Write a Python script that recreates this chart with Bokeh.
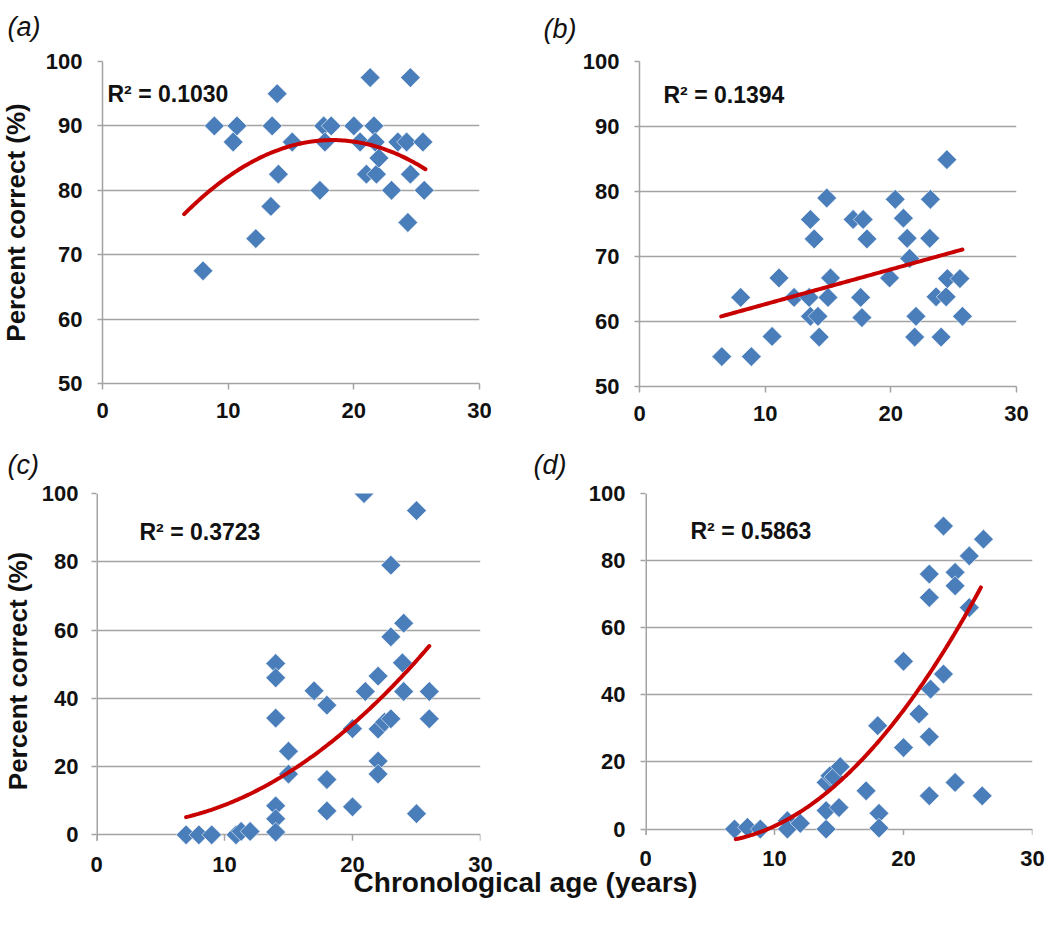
import numpy as np
from bokeh.plotting import figure
from bokeh.layouts import column, row
from bokeh.models import Label, Range1d, FixedTicker, Title
from bokeh.embed import file_html
from bokeh.resources import INLINE

# ---------------- data ----------------
a_age = [8.0, 8.9, 10.4, 10.7, 12.2, 13.4, 13.5, 13.9, 14.0, 15.1, 17.3, 17.6, 17.7, 18.2, 20.0,
         20.5, 21.0, 21.3, 21.6, 21.7, 21.8, 22.0, 23.0, 23.5, 24.2, 24.3, 24.5, 24.5, 25.5, 25.6]
a_pct = [67.5, 90, 87.5, 90, 72.5, 77.5, 90, 95, 82.5, 87.5, 80, 90, 87.5, 90, 90,
         87.5, 82.5, 97.5, 90, 87.5, 82.5, 85, 80, 87.5, 87.5, 75, 97.5, 82.5, 87.5, 80]

b_age = [6.55, 8.05, 8.9, 10.55, 11.1, 12.3, 13.5, 13.6, 13.6, 13.9, 14.2, 14.3, 14.9, 15.0, 15.2,
         17.0, 17.6, 17.7, 17.8, 18.1, 19.9, 20.35, 21.0, 21.3, 21.5, 21.9, 22.0, 23.1, 23.15, 23.6,
         24.0, 24.4, 24.46, 24.5, 25.5, 25.7]
b_pct = [54.6, 63.7, 54.6, 57.7, 66.7, 63.7, 63.7, 75.7, 60.8, 72.7, 60.8, 57.6, 79.0, 63.7, 66.7,
         75.7, 63.7, 60.6, 75.7, 72.7, 66.7, 78.8, 75.9, 72.8, 69.7, 57.6, 60.8, 72.8, 78.8, 63.8,
         57.6, 63.8, 84.9, 66.6, 66.6, 60.8]

c_age = [7.0, 8.0, 9.0, 10.9, 11.3, 12.0, 14.0, 14.0, 14.0, 14.0, 14.0, 14.0, 15.0, 15.0, 17.0,
         18.0, 18.0, 18.0, 20.0, 20.0, 20.9, 21.0, 22.0, 22.0, 22.0, 22.0, 22.5, 23.0, 23.0, 23.0,
         23.9, 24.0, 24.0, 25.0, 25.0, 26.0, 26.0]
c_pct = [0, 0, 0, 0, 1, 1, 50.2, 46, 34.2, 8.5, 4.7, 0.8, 24.5, 17.8, 42.2,
         38, 16.2, 7, 31.1, 8.2, 100, 42, 46.5, 31, 21.6, 17.8, 33, 34, 79, 58,
         50.4, 62, 42, 95, 6.2, 42, 34]

d_age = [6.9, 7.9, 8.9, 11.0, 11.0, 12.0, 14.0, 14.0, 14.0, 14.3, 14.6, 15.0, 15.1, 17.1, 18.0,
         18.1, 18.1, 20.0, 20.0, 21.2, 22.0, 22.0, 22.0, 22.0, 22.1, 23.1, 23.1, 24.0, 24.0, 24.0,
         25.1, 25.1, 26.1, 26.2]
d_pct = [0, 0.5, 0, 2.5, 0, 1.7, 0, 5.5, 13.9, 15.9, 15.5, 6.4, 18.6, 11.4, 30.8,
         4.7, 0.3, 50, 24.3, 34.3, 76, 69, 27.5, 9.9, 41.7, 46.2, 90.3, 76.5, 72.5, 13.9,
         81.4, 66, 9.9, 86.4]

r2_texts = ["R\u00b2 = 0.1030", "R\u00b2 = 0.1394", "R\u00b2 = 0.3723", "R\u00b2 = 0.5863"]
panel_tags = ["(a)", "(b)", "(c)", "(d)"]
# trendline polynomial coefficients (highest power first)
trend_coef = [[-0.0826, 3.023, 60.14], [0.536, 57.3], [0.0912, -0.372, 3.335], [0.1657, -1.52, -0.48]]
trend_span = [(6.5, 25.7), (6.5, 25.7), (7.0, 26.0), (7.0, 26.0)]
x_ticks = [0, 10, 20, 30]
y_ticks_top = [50, 60, 70, 80, 90, 100]
y_ticks_bottom = [0, 20, 40, 60, 80, 100]
x_title = "Chronological age (years)"
y_title = "Percent correct (%)"

FONT = "Liberation Sans"
BLUE = "#4a7ebb"
RED = "#c80000"
GRID = "#a3a3a3"
TXT = "#111111"

ROOT_X, ROOT_Y = -18, -14   # page position of the layout's top-left corner
ROW2_Y = 431                # page y where the second row starts


def make_panel(idx, ages, pcts, yticks, y_lo, y_hi, fx, fy, fw, fh,
               bl, bt, br, bb, ylab, ext, xtick_std, ytick_std, ylab_std, r2_xy, tag_x, tag_std):
    p = figure(frame_width=fw, frame_height=fh,
               min_border_left=bl, min_border_top=bt, min_border_right=br, min_border_bottom=bb,
               x_range=Range1d(0, 30), y_range=Range1d(y_lo, y_hi),
               output_backend="svg", toolbar_location=None, title=None)
    p.outline_line_color = None
    p.background_fill_color = "white"

    def dx(X):
        return 30.0 * (X - fx) / fw

    def dy(Y):
        return y_hi - (Y - fy) / fh * (y_hi - y_lo)

    ppu = fh / (y_hi - y_lo)

    p.xgrid.visible = False
    p.ygrid.grid_line_color = GRID
    p.ygrid.grid_line_width = 1.5
    p.xaxis.ticker = FixedTicker(ticks=x_ticks)
    p.yaxis.ticker = FixedTicker(ticks=yticks)
    p.axis.minor_tick_line_color = None
    p.axis.axis_line_color = GRID
    p.axis.axis_line_width = 1.5
    p.axis.major_tick_line_color = GRID
    p.axis.major_tick_line_width = 1.5
    p.axis.major_label_text_font = FONT
    p.axis.major_label_text_font_style = "bold"
    p.axis.major_label_text_font_size = "22px"
    p.axis.major_label_text_color = TXT
    p.xaxis.major_tick_in = 0
    p.xaxis.major_tick_out = 6
    p.xaxis.major_label_standoff = xtick_std
    p.yaxis.major_tick_in = 0
    p.yaxis.major_tick_out = 5
    p.yaxis.major_label_standoff = ytick_std

    if ext:
        # axis lines drawn at value 0 so that markers sitting on 0 are not cut
        p.xaxis.axis_line_color = None
        p.xaxis.major_tick_line_color = None
        p.xaxis.major_tick_out = 0
        p.yaxis.axis_line_color = None
        tl = -6.0 / ppu
        p.segment(x0=x_ticks, y0=[0] * len(x_ticks), x1=x_ticks, y1=[tl] * len(x_ticks),
                  line_color=GRID, line_width=1.5)
        p.segment(x0=[0], y0=[tl], x1=[0], y1=[y_hi], line_color=GRID, line_width=3)

    if ylab:
        p.yaxis.axis_label = y_title
        p.yaxis.axis_label_text_font = FONT
        p.yaxis.axis_label_text_font_style = "bold"
        p.yaxis.axis_label_text_font_size = "26px"
        p.yaxis.axis_label_text_color = TXT
        p.yaxis.axis_label_standoff = ylab_std

    p.scatter(ages, pcts, marker="square", size=14, angle=np.pi / 4,
              fill_color=BLUE, line_color="white", line_width=0.6)

    t0, t1 = trend_span[idx]
    xs = np.linspace(t0, t1, 120)
    p.line(xs, np.polyval(trend_coef[idx], xs), line_color=RED, line_width=4, line_cap="round")

    p.add_layout(Label(x=dx(r2_xy[0]), y=dy(r2_xy[1]), text=r2_texts[idx],
                       text_font=FONT, text_font_style="bold", text_font_size="23px",
                       text_color=TXT, text_align="left", text_baseline="middle"))
    p.add_layout(Title(text=panel_tags[idx], align="left", offset=tag_x - fx, standoff=tag_std,
                       text_font=FONT, text_font_style="italic", text_font_size="27px",
                       text_color=TXT), "above")
    return p


row1_bottom = ROW2_Y - 383
pa = make_panel(0, a_age, a_pct, y_ticks_top, 50, 100, 102, 61, 377, 322,
                102 - ROOT_X, 61 - ROOT_Y, 50, row1_bottom, True, False, 13, 15, 12,
                (107, 93.5), 7, 39)
pb = make_panel(1, b_age, b_pct, y_ticks_top, 50, 100, 639, 58, 377, 325,
                110, 58 - ROOT_Y, 18, row1_bottom, False, False, 13, 15, 9,
                (663, 91), 543, 36)
pc = make_panel(2, c_age, c_pct, y_ticks_bottom, -4, 100, 96, 492, 384, 355,
                96 - ROOT_X, 492 - ROW2_Y, 45, 887 - 847, True, True, 8, 13, 6,
                (139, 530), 7, 27)
pd_ = make_panel(3, d_age, d_pct, y_ticks_bottom, -4, 100, 645, 493, 387, 349,
                 120, 493 - ROW2_Y, 14, 887 - 842, False, True, 8, 15, 3,
                 (690, 530), 533, 27)

pe = figure(width=1034, height=45, x_range=Range1d(0, 1034), y_range=Range1d(0, 45),
            min_border=0, min_border_left=0, min_border_right=0, min_border_top=0,
            min_border_bottom=0, output_backend="svg", toolbar_location=None, title=None,
            margin=(-22, 0, 0, 0))
pe.xaxis.visible = False
pe.yaxis.visible = False
pe.grid.visible = False
pe.outline_line_color = None
pe.background_fill_color = None
pe.border_fill_color = None
pe.add_layout(Label(x=525 - ROOT_X, y=28, text=x_title, text_font=FONT, text_font_style="bold",
                    text_font_size="28px", text_color=TXT, text_align="center",
                    text_baseline="middle"))

layout = column(row(pa, pb), row(pc, pd_), pe, margin=(ROOT_Y, 0, 0, ROOT_X))
open("out.html", "w").write(file_html(layout, INLINE))
